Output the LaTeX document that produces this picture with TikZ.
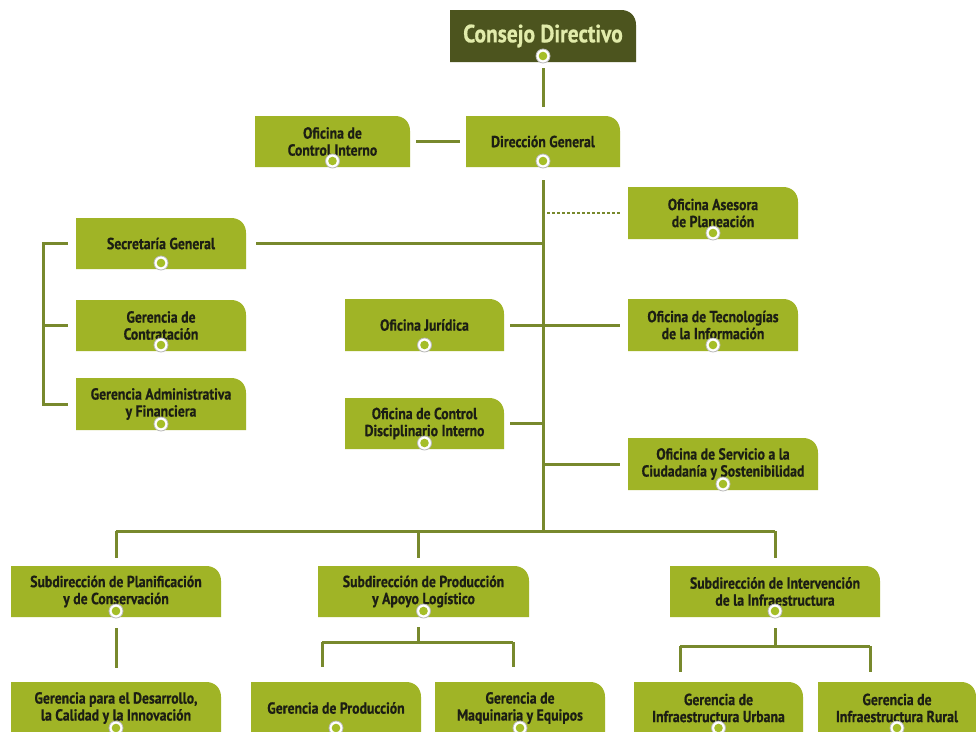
\documentclass[tikz,border=0pt]{standalone}
\usepackage{fontspec}
\setmainfont{PT Sans}[FakeStretch=0.86, BoldFont={PT Sans Bold}, BoldFeatures={FakeBold=0.6}]
\definecolor{boxfill}{RGB}{160,180,38}
\definecolor{darkbox}{RGB}{76,84,30}
\definecolor{linec}{RGB}{120,137,45}
\definecolor{txtc}{RGB}{28,30,20}
\definecolor{toptxt}{RGB}{225,235,170}
\definecolor{dotg}{RGB}{165,190,40}
\newcommand{\dotmark}[2]{%
  \fill[white] (#1,#2) circle (7pt);
  \draw[gray!55, line width=0.8pt] (#1,#2) circle (7pt);
  \fill[dotg] (#1,#2) circle (4.3pt);}
% #1 fill, #2 name, #3 x1, #4 y1, #5 x2, #6 y2, #7 style, #8 text
\newcommand{\orgbox}[8]{%
  \fill[#1] (#3,#6) -- (#3,#4) -- ({#5-15},#4) .. controls ({#5-6},#4) and (#5,{#4+6}) .. (#5,{#4+15}) -- (#5,#6) -- cycle;
  \node[#7, minimum width={(#5-#3)*1pt}, minimum height={(#6-#4)*1pt}] (#2) at ({(#3+#5)/2},{(#4+#6)/2}) {#8};
  \dotmark{{(#3+#5)/2}}{{#6-6}}}
\begin{document}
\begin{tikzpicture}[x=1pt,y=-1pt,
  boxtext/.style={inner sep=0pt, align=center, text=txtc, font=\bfseries\fontsize{16}{17}\selectfont},
  toptext/.style={inner sep=0pt, align=center, text=toptxt, font=\bfseries\fontsize{25}{28}\selectfont},
  conn/.style={draw=linec, line width=3pt, shorten <=6pt, shorten >=6pt},
  plain/.style={draw=linec, line width=3pt},
  dashconn/.style={draw=linec, line width=1.6pt, dash pattern=on 3pt off 2pt}]
\useasboundingbox (0,0) rectangle (976,731);
\fill[white] (0,0) rectangle (976,731);

\orgbox{darkbox}{cd}{450}{10}{636}{62}{toptext}{Consejo Directivo}
\orgbox{boxfill}{oci}{255}{116}{410}{167}{boxtext}{Oficina de\\Control Interno}
\orgbox{boxfill}{dg}{466}{116}{620}{167}{boxtext}{Dirección General}
\orgbox{boxfill}{plan}{628}{187}{798}{239}{boxtext}{Oficina Asesora\\de Planeación}
\orgbox{boxfill}{sec}{76}{218}{246}{269}{boxtext}{Secretaría General}
\orgbox{boxfill}{gcon}{76}{300}{246}{351}{boxtext}{Gerencia de\\Contratación}
\orgbox{boxfill}{gaf}{76}{378}{246}{430}{boxtext}{Gerencia Administrativa\\y Financiera}
\orgbox{boxfill}{jur}{345}{299}{504}{351}{boxtext}{Oficina Jurídica}
\orgbox{boxfill}{tec}{628}{299}{798}{351}{boxtext}{Oficina de Tecnologías\\de la Información}
\orgbox{boxfill}{odi}{345}{398}{504}{449}{boxtext}{Oficina de Control\\Disciplinario Interno}
\orgbox{boxfill}{ser}{628}{438}{818}{490}{boxtext}{Oficina de Servicio a la\\Ciudadanía y Sostenibilidad}
\orgbox{boxfill}{spl}{11}{566}{221}{617}{boxtext}{Subdirección de Planificación\\y de Conservación}
\orgbox{boxfill}{spa}{318}{566}{529}{617}{boxtext}{Subdirección de Producción\\y Apoyo Logístico}
\orgbox{boxfill}{sin}{670}{566}{880}{617}{boxtext}{Subdirección de Intervención\\de la Infraestructura}
\orgbox{boxfill}{gdc}{11}{682}{221}{734}{boxtext}{Gerencia para el Desarrollo,\\la Calidad y la Innovación}
\orgbox{boxfill}{gp}{251}{682}{421}{734}{boxtext}{Gerencia de Producción}
\orgbox{boxfill}{gm}{435}{682}{605}{734}{boxtext}{Gerencia de\\Maquinaria y Equipos}
\orgbox{boxfill}{gu}{634}{682}{803}{734}{boxtext}{Gerencia de\\Infraestructura Urbana}
\orgbox{boxfill}{gr}{818}{682}{976}{734}{boxtext}{Gerencia de\\Infraestructura Rural}

\coordinate (bus) at (543,531);
\coordinate (bx) at (43,0);
\coordinate (pj) at (418,642);
\coordinate (pl) at (322,642);
\coordinate (pr) at (513,642);
\coordinate (ij) at (775,646);
\coordinate (il) at (680,646);
\coordinate (ir) at (870,646);

\draw[conn, shorten >=9pt] (cd.south) -- (dg.north);
\draw[conn] (oci.east) -- (dg.west);
\draw[conn, shorten <=13pt, shorten >=0pt] (dg.south) -- (bus);
\draw[dashconn, shorten <=8pt, shorten >=3pt] (plan.west) -- (plan.west -| bus);
\draw[conn, shorten <=10pt, shorten >=0pt] (sec.east) -- (sec.east -| bus);
\draw[conn, shorten <=6pt, shorten >=8pt] (jur.east) -- (tec.west);
\draw[conn, shorten >=0pt] (odi.east) -- (odi.east -| bus);
\draw[conn, shorten <=8pt, shorten >=0pt] (ser.west) -- (ser.west -| bus);
\draw[plain] ([xshift=-8pt]sec.west) -- (sec.west -| bx) -- (gaf.west -| bx) -- ([xshift=-8pt]gaf.west);
\draw[plain] (gcon.west -| bx) -- ([xshift=-8pt]gcon.west);
\draw[plain] (spl.north |- bus) -- (sin.north |- bus);
\draw[conn, shorten <=0pt, shorten >=8pt] (spl.north |- bus) -- (spl.north);
\draw[conn, shorten <=0pt, shorten >=8pt] (pj |- bus) -- (pj |- spa.north);
\draw[conn, shorten <=0pt, shorten >=8pt] (sin.north |- bus) -- (sin.north);
\draw[conn, shorten <=11pt, shorten >=14pt] (spl.south) -- (gdc.north);
\draw[conn, shorten <=10pt, shorten >=0pt] (pj |- spa.south) -- (pj);
\draw[plain] (pl) -- (pr);
\draw[conn, shorten <=0pt, shorten >=15pt] (pl) -- (pl |- gp.north);
\draw[conn, shorten <=0pt, shorten >=15pt] (pr) -- (pr |- gm.north);
\draw[conn, shorten <=11pt, shorten >=0pt] (sin.south) -- (ij);
\draw[plain] (il) -- (ir);
\draw[conn, shorten <=0pt, shorten >=10pt] (il) -- (il |- gu.north);
\draw[conn, shorten <=0pt, shorten >=10pt] (ir) -- (ir |- gr.north);
\end{tikzpicture}
\end{document}
